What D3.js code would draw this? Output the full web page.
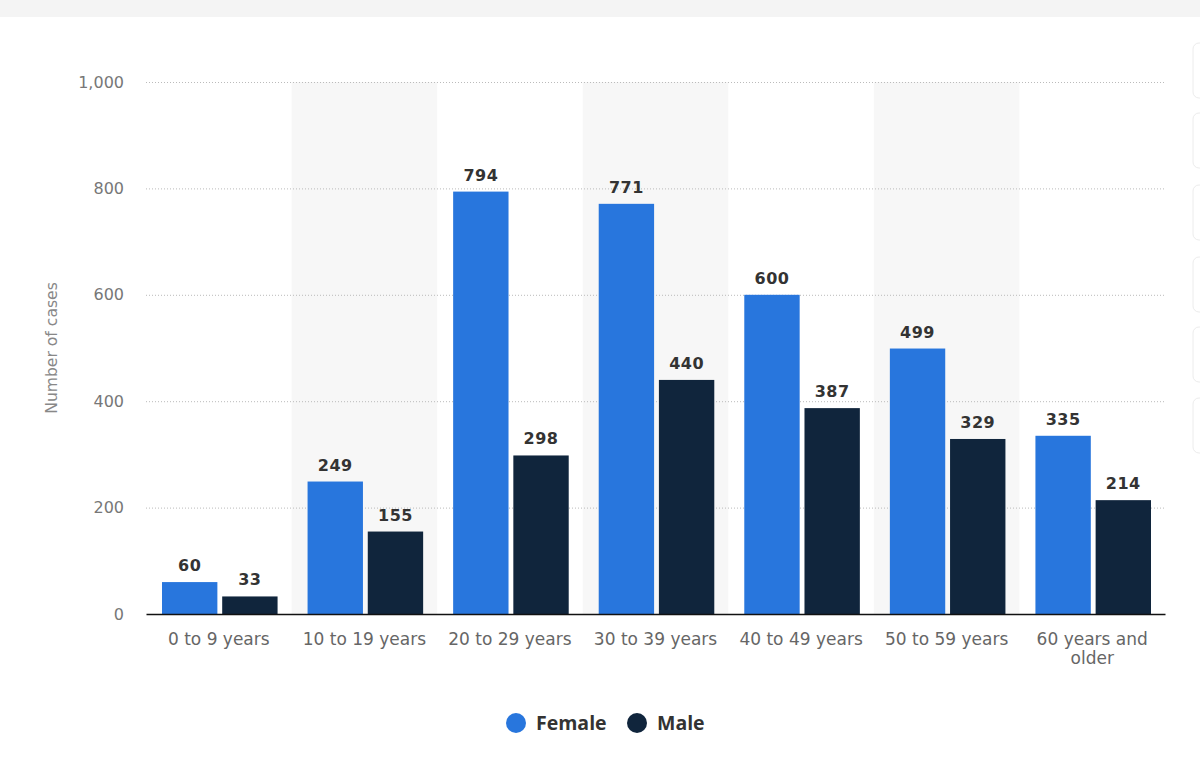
<!DOCTYPE html>
<html>
<head>
<meta charset="utf-8">
<script src="https://cdn.jsdelivr.net/npm/d3@7"></script>
<style>
  body { margin: 0; background: #fff; font-family: "Open Sans", "Noto Sans", sans-serif; }
</style>
</head>
<body>
<svg class="chart"></svg>
<script>
const categories = ["0 to 9 years", "10 to 19 years", "20 to 29 years", "30 to 39 years",
  "40 to 49 years", "50 to 59 years", "60 years and older"];
const female = [60, 249, 794, 771, 600, 499, 335];
const male = [33, 155, 298, 440, 387, 329, 214];
const seriesNames = ["Female", "Male"];
const yTicks = [0, 200, 400, 600, 800, 1000];

const colors = {Female: "#2876dd", Male: "#10253c"};

const W = 1200, H = 772;
const margin = {top: 82, right: 35, bottom: 158, left: 146};
const width = W - margin.left - margin.right;
const height = H - margin.top - margin.bottom;

const svg = d3.select('.chart')
  .attr('width', W)
  .attr('height', H);

// page chrome: top strip and right side cards
svg.append('rect').attr('x', 0).attr('y', 0).attr('width', W).attr('height', 17).attr('fill', '#f4f4f4');
[43, 113, 185, 257, 327, 398].forEach(function(yy) {
  svg.append('rect')
    .attr('x', 1193).attr('y', yy).attr('width', 30).attr('height', 55).attr('rx', 6)
    .attr('fill', '#fff').attr('stroke', '#ececec');
});

const chart = svg.append('g')
  .attr('transform', `translate(${margin.left}, ${margin.top})`);

const x = d3.scaleBand()
  .domain(categories)
  .range([0, width]);

const x1 = d3.scaleBand()
  .domain(seriesNames)
  .range([16, x.bandwidth() - 14])
  .paddingInner(0.08);

const y = d3.scaleLinear()
  .domain([0, 1000])
  .range([height, 0]);

// alternating shaded bands
chart.selectAll('.band')
  .data(categories.filter(function(d, i) { return i % 2 === 1; }))
  .enter()
.append('rect')
  .attr('class', 'band')
  .attr('x', function(d) { return x(d); })
  .attr('y', 0)
  .attr('width', x.bandwidth())
  .attr('height', height)
  .attr('fill', '#f7f7f7');

// grid
chart.append('g')
  .selectAll('line')
  .data(yTicks.filter(function(d) { return d > 0; }))
  .enter()
.append('line')
  .attr('x1', 0)
  .attr('x2', width)
  .attr('y1', function(d) { return y(d) + 0.5; })
  .attr('y2', function(d) { return y(d) + 0.5; })
  .attr('stroke', '#bbb')
  .attr('stroke-dasharray', '1,2');

const yAxis = d3.axisLeft(y)
  .tickValues(yTicks)
  .tickFormat(d3.format(','))
  .tickSize(0)
  .tickPadding(22);

chart.append('g')
  .attr('class', 'y axis')
  .call(yAxis)
  .attr('font-family', '"DejaVu Sans", sans-serif')
  .attr('font-size', 16)
  .call(function(g) { g.select('.domain').remove(); })
  .call(function(g) { g.selectAll('.tick text').attr('fill', '#777'); });

chart.append('text')
  .attr('transform', `translate(${57 - margin.left}, ${348 - margin.top}) rotate(-90)`)
  .style('text-anchor', 'middle')
  .attr('fill', '#888')
  .attr('font-family', '"DejaVu Sans", sans-serif')
  .attr('font-size', 15.6)
  .text('Number of cases');

const data = categories.map(function(c, i) {
  return {cat: c, values: [{key: "Female", value: female[i]}, {key: "Male", value: male[i]}]};
});

const groups = chart.selectAll('.group')
  .data(data)
  .enter()
.append('g')
  .attr('class', 'group')
  .attr('transform', function(d) { return `translate(${x(d.cat)}, 0)`; });

groups.selectAll('rect')
  .data(function(d) { return d.values; })
  .enter()
.append('rect')
  .attr('x', function(d) { return x1(d.key); })
  .attr('y', function(d) { return y(d.value); })
  .attr('width', x1.bandwidth())
  .attr('height', function(d) { return height - y(d.value); })
  .attr('fill', function(d) { return colors[d.key]; });

groups.selectAll('.label')
  .data(function(d) { return d.values; })
  .enter()
.append('text')
  .attr('class', 'label')
  .attr('x', function(d) { return x1(d.key) + x1.bandwidth() / 2; })
  .attr('y', function(d) { return y(d.value) - 11; })
  .style('text-anchor', 'middle')
  .attr('fill', '#333')
  .attr('font-family', '"DejaVu Sans", sans-serif')
  .attr('font-size', 16)
  .attr('font-weight', 700)
  .attr('letter-spacing', '0.5px')
  .text(function(d) { return d.value; });

const xAxis = d3.axisBottom(x)
  .tickSize(0)
  .tickPadding(19);

const xg = chart.append('g')
  .attr('class', 'x axis')
  .attr('transform', `translate(0, ${height})`)
  .call(xAxis)
  .attr('font-family', '"DejaVu Sans", sans-serif')
  .attr('font-size', 17);
xg.select('.domain').attr('stroke', '#111').attr('stroke-width', 1.5);
xg.selectAll('.tick text')
  .attr('fill', '#666')
  .each(function(d) {
    if (d === "60 years and older") {
      const t = d3.select(this);
      t.text(null);
      t.append('tspan').attr('x', 0).text('60 years and');
      t.append('tspan').attr('x', 0).attr('dy', '1.1em').text('older');
    }
  });

// legend
const legend = svg.append('g')
  .attr('transform', 'translate(516, 723)');
const lx = [0, 121];
seriesNames.forEach(function(s, i) {
  legend.append('circle')
    .attr('cx', lx[i]).attr('cy', 0).attr('r', 10)
    .attr('fill', colors[s]);
  legend.append('text')
    .attr('x', lx[i] + 20).attr('y', 7)
    .attr('font-size', 19.5).attr('font-weight', 700)
    .attr('fill', '#333')
    .text(s);
});
</script>
</body>
</html>
